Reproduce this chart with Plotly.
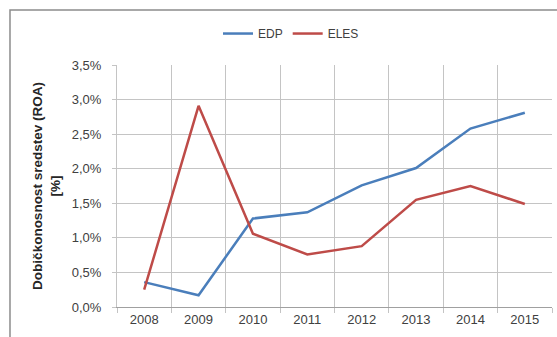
import plotly.graph_objects as go

# Return on assets by year
years = ["2008", "2009", "2010", "2011", "2012", "2013", "2014", "2015"]
edp = [0.36, 0.17, 1.28, 1.37, 1.76, 2.01, 2.58, 2.81]
eles = [0.25, 2.91, 1.06, 0.76, 0.88, 1.55, 1.75, 1.49]

y_ticks = [0.0, 0.5, 1.0, 1.5, 2.0, 2.5, 3.0, 3.5]
y_labels = [f"{v:.1f}%".replace(".", ",") for v in y_ticks]

blue = "#4a7ebb"
red = "#be4b48"
grid = "#c4c4c4"
font_family = "Liberation Sans, Arial, sans-serif"

fig = go.Figure()
fig.add_trace(go.Scatter(x=years, y=edp, name="EDP", mode="lines",
                         line=dict(color=blue, width=2.5)))
fig.add_trace(go.Scatter(x=years, y=eles, name="ELES", mode="lines",
                         line=dict(color=red, width=2.5)))

fig.update_layout(
    width=557, height=337,
    margin=dict(l=117, r=5, t=65, b=30),
    paper_bgcolor="white", plot_bgcolor="white",
    font=dict(family=font_family, size=12, color="#404040"),
    showlegend=True,
    legend=dict(orientation="h", x=0.40, y=1.13, xanchor="center", yanchor="middle",
                font=dict(size=12, color="#404040"), itemwidth=30,
                bgcolor="rgba(0,0,0,0)"),
    shapes=[dict(type="rect", xref="paper", yref="paper",
                 x0=-0.246, x1=1.2, y0=-0.3, y1=1.227,
                 line=dict(color="#8c8c8c", width=1.5), layer="below")],
)

fig.update_xaxes(
    type="category", range=[-0.5, 7.5],
    showgrid=True, gridcolor=grid, gridwidth=1,
    tickson="boundaries", ticks="outside", ticklen=5, tickcolor=grid,
    showline=True, linecolor="#a0a0a0", linewidth=1,
    tickfont=dict(size=13, color="#404040"),
)
fig.update_yaxes(
    range=[0, 3.5], tickvals=y_ticks, ticktext=y_labels,
    showgrid=True, gridcolor=grid, gridwidth=1,
    ticks="outside", ticklen=4, tickcolor=grid, ticklabelstandoff=8,
    showline=True, linecolor=grid, linewidth=1, zeroline=False,
    tickfont=dict(size=13, color="#404040"),
    title=dict(text="<b>Dobičkonosnost sredstev (ROA)<br>[%]</b>",
               font=dict(size=13.5, color="#262626"), standoff=8),
)

fig.write_html("out.html")
